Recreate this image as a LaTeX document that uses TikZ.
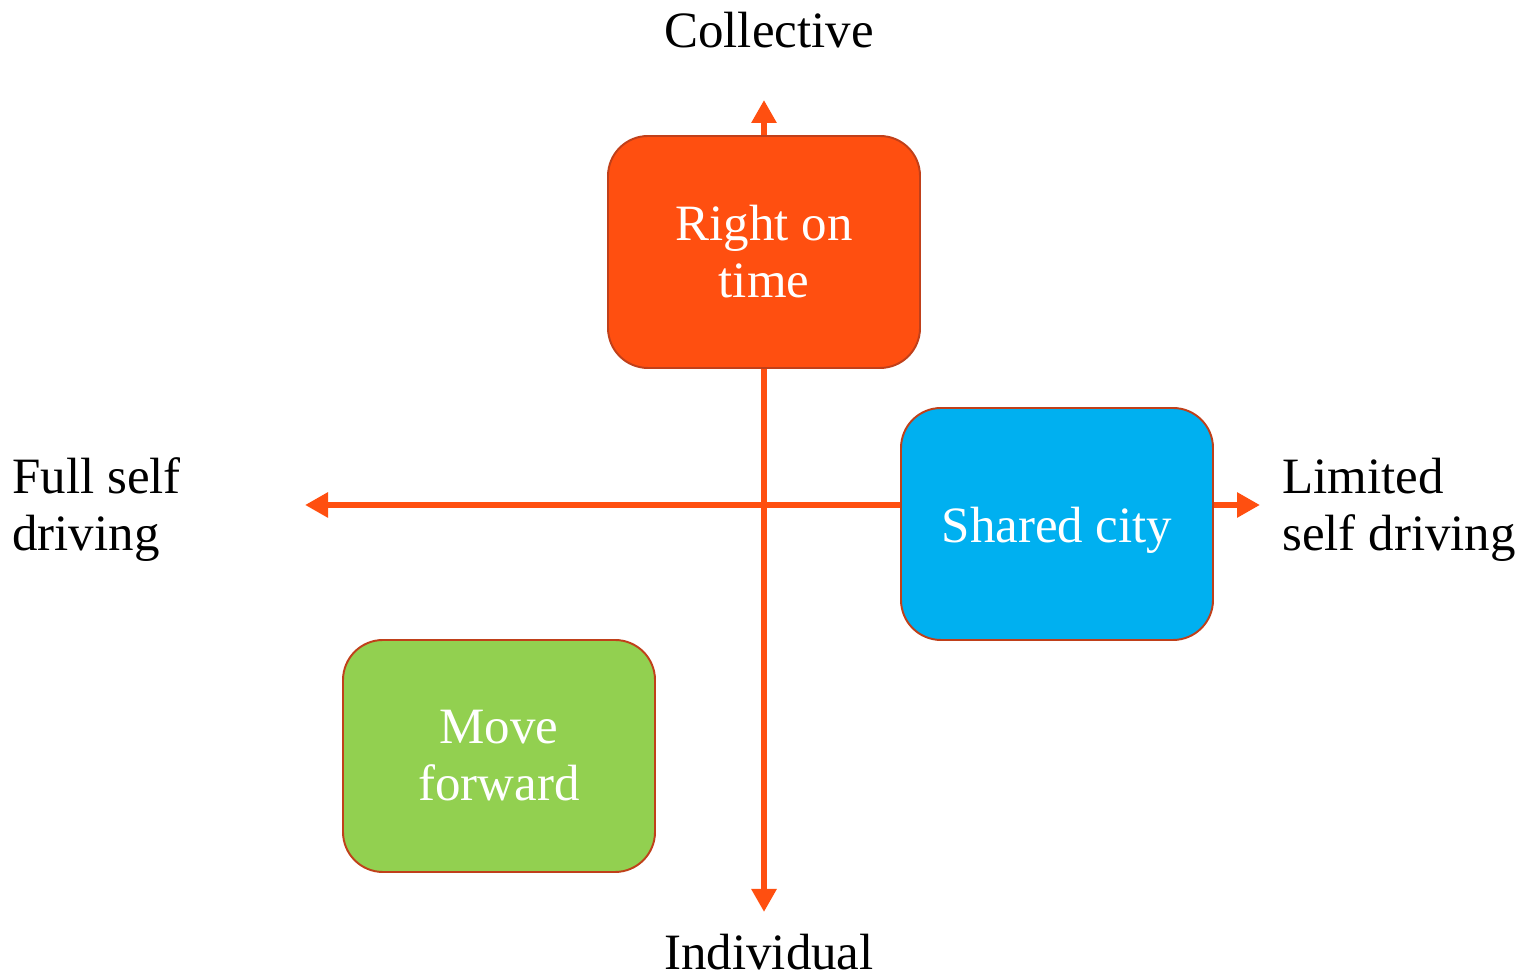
\documentclass[tikz,border=0pt]{standalone}
\usepackage{fontspec}
\setmainfont{Liberation Serif}
\usepackage{tikz}
\usetikzlibrary{arrows.meta}
\definecolor{axisorange}{HTML}{FF4F10}
\definecolor{edgered}{HTML}{C0401A}
\definecolor{boxgreen}{HTML}{92D050}
\definecolor{boxblue}{HTML}{00B0F0}

\begin{document}
\begin{tikzpicture}[
  axis/.style={line width=3.4pt,axisorange,-{Triangle[width=0.48cm,length=0.46cm]}},
  quad/.style={draw=edgered,line width=1.1pt,rounded corners=0.8cm,minimum width=6.24cm,minimum height=4.64cm,
    text=white,align=center,font=\fontsize{29}{32.5}\selectfont},
  lbl/.style={font=\fontsize{29}{32.5}\selectfont,inner sep=0pt}]
\useasboundingbox (0,0) rectangle (30.48,19.52);
\coordinate (O) at (15.28,9.42);
\coordinate (up) at (15.28,17.52);
\coordinate (down) at (15.28,1.28);
\coordinate (left) at (6.10,9.42);
\coordinate (right) at (25.20,9.42);
\draw[axis] (O)--(up);
\draw[axis] (O)--(down);
\draw[axis] (O)--(left);
\draw[axis] (O)--(right);
\node[quad,fill=axisorange] (ontime) at (15.28,14.48) {Right on\\time};
\node[quad,fill=boxblue] (shared) at (21.14,9.04) {\raisebox{-0.12cm}[\height][\depth]{Shared city}};
\node[quad,fill=boxgreen] (forward) at (9.98,4.40) {Move\\forward};
\node[lbl,anchor=base] (collective) at (15.38,18.56) {Collective};
\node[lbl,anchor=base] (individual) at (15.38,0.12) {Individual};
\node[lbl,anchor=west,align=left] (fullself) at (0.24,9.32) {Full self\\driving};
\node[lbl,anchor=west,align=left] (limited) at (25.64,9.32) {Limited\\self driving};
\end{tikzpicture}
\end{document}
